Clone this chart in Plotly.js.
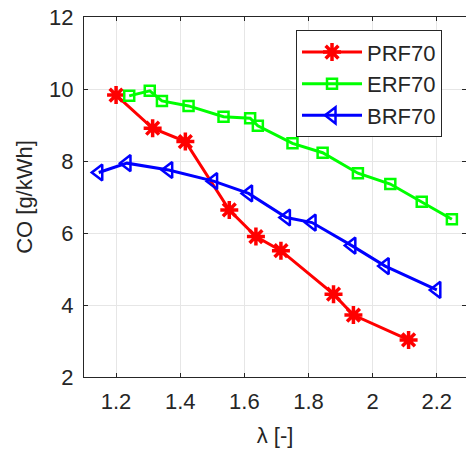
<!DOCTYPE html>
<html>
<head>
<meta charset="utf-8">
<script src="https://cdn.plot.ly/plotly-3.0.1.min.js"></script>
<style>html,body{margin:0;padding:0;background:#fff;}#chart{width:466px;height:454px;}</style>
</head>
<body>
<div id="chart"></div>
<script>
var prfX = [1.20, 1.314, 1.416, 1.553, 1.636, 1.714, 1.878, 1.940, 2.112];
var prfY = [9.83, 8.91, 8.54, 6.64, 5.90, 5.51, 4.30, 3.72, 3.03];

var erfX = [1.241, 1.305, 1.343, 1.426, 1.535, 1.618, 1.642, 1.750, 1.844, 1.954, 2.055, 2.153, 2.247];
var erfY = [9.81, 9.95, 9.67, 9.53, 9.23, 9.19, 8.98, 8.49, 8.23, 7.66, 7.36, 6.87, 6.38];

var brfX = [1.146, 1.234, 1.364, 1.504, 1.613, 1.731, 1.811, 1.935, 2.039, 2.200];
var brfY = [7.68, 7.94, 7.75, 7.44, 7.10, 6.43, 6.29, 5.65, 5.08, 4.42];

var seriesNames = ['PRF70', 'ERF70', 'BRF70'];
var xTickVals = [1.2, 1.4, 1.6, 1.8, 2.0, 2.2];
var xTickText = ['1.2', '1.4', '1.6', '1.8', '2', '2.2'];
var yTickVals = [2, 4, 6, 8, 10, 12];

var font = 'Arial, "Liberation Sans", sans-serif';

var traces = [
  {x: prfX, y: prfY, name: seriesNames[0], mode: 'lines+markers',
   line: {color: '#ff0000', width: 3},
   marker: {symbol: 'asterisk-open', size: 15, color: '#ff0000', line: {color: '#ff0000', width: 3.5}}},
  {x: erfX, y: erfY, name: seriesNames[1], mode: 'lines+markers',
   line: {color: '#00ff00', width: 3},
   marker: {symbol: 'square-open', size: 10, color: '#00ff00', line: {color: '#00ff00', width: 2.5}}},
  {x: brfX, y: brfY, name: seriesNames[2], mode: 'lines+markers',
   line: {color: '#0000ff', width: 3},
   marker: {symbol: 'triangle-left-open', size: 14, color: '#0000ff', line: {color: '#0000ff', width: 2.5}}}
];

var layout = {
  width: 466, height: 454,
  margin: {l: 84, r: 0, t: 17, b: 77},
  paper_bgcolor: '#ffffff', plot_bgcolor: '#ffffff',
  font: {family: font, size: 22, color: '#262626'},
  showlegend: true,
  legend: {x: 0.555, y: 0.963, xanchor: 'left', yanchor: 'top',
    bgcolor: '#ffffff', bordercolor: '#262626', borderwidth: 1,
    itemwidth: 60,
    font: {family: font, size: 22, color: '#262626'}, tracegroupgap: 0},
  xaxis: {range: [1.1, 2.291], tickvals: xTickVals, ticktext: xTickText,
    showgrid: true, gridcolor: '#e6e6e6', gridwidth: 1,
    showline: true, linecolor: '#262626', linewidth: 1, mirror: 'ticks',
    ticks: 'inside', ticklen: 4, tickcolor: '#262626', zeroline: false,
    ticklabelstandoff: 5,
    tickfont: {family: font, size: 22, color: '#262626'},
    title: {text: 'λ [-]', font: {family: font, size: 22, color: '#262626'}, standoff: 14}},
  yaxis: {range: [2, 12], tickvals: yTickVals,
    showgrid: true, gridcolor: '#e6e6e6', gridwidth: 1,
    showline: true, linecolor: '#262626', linewidth: 1, mirror: 'ticks',
    ticks: 'inside', ticklen: 4, tickcolor: '#262626', zeroline: false,
    ticklabelstandoff: 5,
    tickfont: {family: font, size: 22, color: '#262626'},
    title: {text: 'CO [g/kWh]', font: {family: font, size: 22, color: '#262626'}, standoff: 10}}
};

Plotly.newPlot('chart', traces, layout, {displayModeBar: false, staticPlot: true});
</script>
</body>
</html>
